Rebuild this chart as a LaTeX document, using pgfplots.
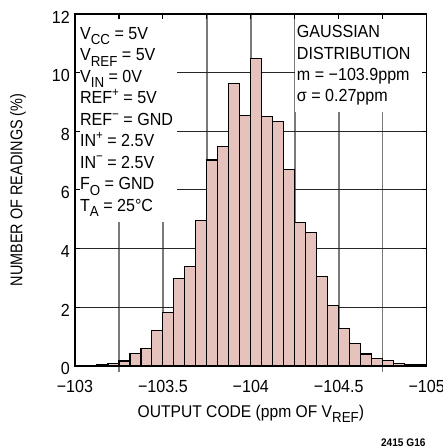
\documentclass[border=0pt]{standalone}
\usepackage{fontspec}
\setmainfont{Liberation Sans}[FakeStretch=0.85]
\newfontfamily\boxfont{Liberation Sans}[FakeStretch=0.92]
\usepackage{pgfplots}
\pgfplotsset{compat=1.18}
\definecolor{barfill}{RGB}{229,194,188}
\newcommand{\sub}[1]{\raisebox{-0.3em}{\fontsize{14.5bp}{14.5bp}\selectfont #1}}
\newcommand{\sups}[1]{\raisebox{0.42em}{\fontsize{12.5bp}{12.5bp}\selectfont #1}}
\begin{document}
\begin{tikzpicture}
\path[use as bounding box] (-75bp,-82.3bp) rectangle (368bp,366bp);
% layer 1: grid, bars, white boxes
\begin{axis}[
  scale only axis, width=352bp, height=352bp,
  xmin=-105, xmax=-103, ymin=0, ymax=12, x dir=reverse,
  xtick={-103,-103.25,-103.5,-103.75,-104,-104.25,-104.5,-104.75,-105},
  ytick={0,2,4,6,8,10,12},
  xticklabels={}, yticklabels={},
  major tick length=0pt,
  axis line style={draw=none},
  grid=major,
  x grid style={color=black!52, line width=1.5bp},
  y grid style={color=black!85, line width=1bp},
  clip=false,
]
\fill[white] (axis cs:-103,4.91) rectangle (axis cs:-103.58,12);
\fill[white] (axis cs:-104.25,8.66) rectangle (axis cs:-105,12);
\draw[black!52, line width=1.5bp] (axis cs:-103.25,0) -- (axis cs:-103.25,-0.205);
\draw[black!52, line width=1.5bp] (axis cs:-104.75,0) -- (axis cs:-104.75,-0.205);
\addplot[ybar, bar width=0.0625, bar shift=0pt, fill=barfill, draw=black, line width=1.2bp] coordinates {
(-103.03125,0) (-103.09375,0) (-103.15625,0.03) (-103.21875,0.07)
(-103.28125,0.16) (-103.34375,0.41) (-103.40625,0.59) (-103.46875,1.20)
(-103.53125,1.83) (-103.59375,2.99) (-103.65625,3.39) (-103.71875,4.95)
(-103.78125,7.02) (-103.84375,7.49) (-103.90625,9.62) (-103.96875,8.54)
(-104.03125,10.47) (-104.09375,8.50) (-104.15625,8.32) (-104.21875,6.70)
(-104.28125,4.90) (-104.34375,4.54) (-104.40625,3.05) (-104.46875,2.06)
(-104.53125,1.27) (-104.59375,0.77) (-104.65625,0.40) (-104.71875,0.25)
(-104.78125,0.17) (-104.84375,0.08) (-104.90625,0.04) (-104.96875,0.03)
};
\end{axis}
% layer 2: frame, ticks, labels, texts
\begin{axis}[
  scale only axis, width=352bp, height=352bp,
  xmin=-105, xmax=-103, ymin=0, ymax=12, x dir=reverse,
  xtick={-103,-103.25,-103.5,-103.75,-104,-104.25,-104.5,-104.75,-105},
  xticklabels={−103,,−103.5,,−104,,−104.5,,−105},
  ytick={0,2,4,6,8,10,12},
  yticklabels={0,2,4,6,8,10,12},
  tick align=inside, tick pos=both,
  major tick length=5bp,
  tick style={black, line width=1.2bp},
  axis line style={line width=1.5bp},
  ticklabel style={font=\boxfont\fontsize{17.5bp}{17.5bp}\selectfont},
  xticklabel style={anchor=base, yshift=-27bp},
  yticklabel style={anchor=east, inner sep=0pt, xshift=-5bp, yshift=-3bp},
  xlabel={OUTPUT CODE (ppm OF V\sub{REF})},
  ylabel={NUMBER OF READINGS (\%)},
  xlabel style={font=\boxfont\fontsize{17bp}{17bp}\selectfont, at={(axis description cs:0.5,0)}, anchor=base, yshift=-52bp},
  ylabel style={font=\fontsize{17bp}{17bp}\selectfont, at={(axis description cs:-0.162,0.5)}, anchor=center},
  clip=false,
]
\node[anchor=north west, align=left, inner sep=0pt,
  font=\boxfont\fontsize{17.5bp}{21.5bp}\selectfont] at (axis cs:-103.028,11.55)
  {V\sub{CC} = 5V\\
   V\sub{REF} = 5V\\
   V\sub{IN} = 0V\\
   REF\sups{+} = 5V\\
   REF\sups{−} = GND\\
   IN\sups{+} = 2.5V\\
   IN\sups{−} = 2.5V\\
   F\sub{O} = GND\\
   T\sub{A} = 25°C};
\node[anchor=north west, align=left, inner sep=0pt,
  font=\boxfont\fontsize{17.5bp}{21.5bp}\selectfont] at (axis cs:-104.261,11.62)
  {GAUSSIAN\\
   DISTRIBUTION\\
   m = −103.9ppm\\
   σ = 0.27ppm};
\end{axis}
\node[anchor=base east, inner sep=0pt, font=\boxfont\fontsize{11bp}{11bp}\selectfont\bfseries] at (351bp,-81bp) {2415 G16};
\end{tikzpicture}
\end{document}
